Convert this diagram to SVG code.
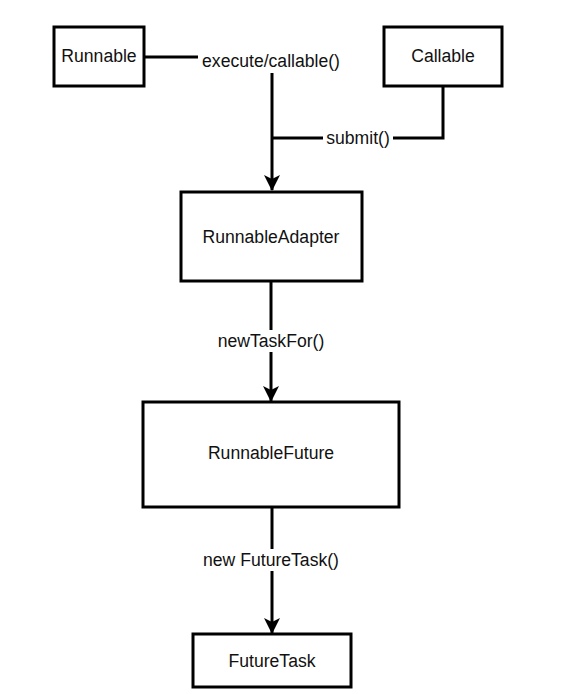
<svg xmlns="http://www.w3.org/2000/svg" width="576" height="694" viewBox="0 0 576 694">
<style>
.box{fill:#fff;stroke:#000;stroke-width:3}
.edge{fill:none;stroke:#000;stroke-width:3}
.t{font-family:"Liberation Sans",Arial,sans-serif;font-size:17.6px;fill:#111;text-anchor:middle;dominant-baseline:central}
.lb{fill:#fff}
</style>
<defs>
<marker id="arr" viewBox="0 0 16 16" refX="15" refY="8" markerWidth="16" markerHeight="16" markerUnits="userSpaceOnUse" orient="auto">
<path d="M0,0 L16,8 L0,16 L4,8 Z" fill="#000"/>
</marker>
</defs>
<rect width="576" height="694" fill="#fff"/>
<g id="connectors">
<path class="edge" d="M144,57 H272 V190" marker-end="url(#arr)"/>
<path class="edge" d="M443,87 V138 H272"/>
<path class="edge" d="M271,281 V401" marker-end="url(#arr)"/>
<path class="edge" d="M272,507 V633" marker-end="url(#arr)"/>
<rect class="lb" x="198" y="49" width="148" height="24"/>
<text class="t" x="271" y="61">execute/callable()</text>
<rect class="lb" x="323" y="128" width="70" height="21"/>
<text class="t" x="358" y="138">submit()</text>
<rect class="lb" x="214" y="330" width="115" height="22"/>
<text class="t" x="271" y="341">newTaskFor()</text>
<rect class="lb" x="197" y="549" width="148" height="22"/>
<text class="t" x="271" y="560">new FutureTask()</text>
</g>
<g id="runnable">
<rect class="box" x="54" y="27" width="90" height="59"/>
<text class="t" x="99" y="56">Runnable</text>
</g>
<g id="callable">
<rect class="box" x="384" y="27" width="118" height="59"/>
<text class="t" x="443" y="56">Callable</text>
</g>
<g id="runnableAdapter">
<rect class="box" x="181" y="192" width="181" height="89"/>
<text class="t" x="271" y="237">RunnableAdapter</text>
</g>
<g id="runnableFuture">
<rect class="box" x="143" y="402" width="256" height="105"/>
<text class="t" x="271" y="453">RunnableFuture</text>
</g>
<g id="futureTask">
<rect class="box" x="193" y="634" width="158" height="53"/>
<text class="t" x="272" y="661">FutureTask</text>
</g>
</svg>
